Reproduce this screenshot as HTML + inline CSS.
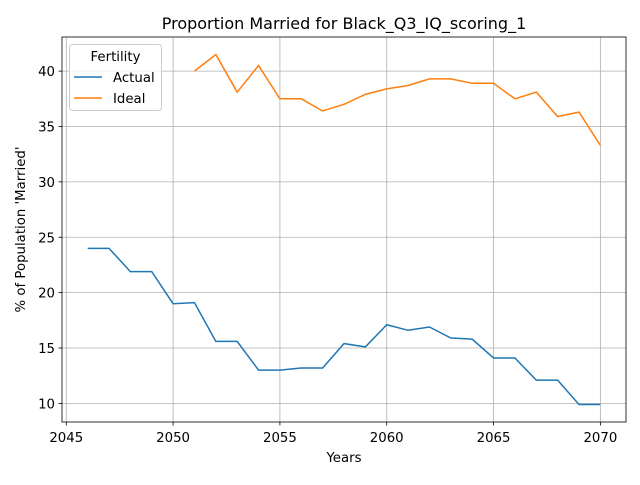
<!DOCTYPE html>
<html><head><meta charset="utf-8"><style>
body{margin:0;background:#fff;font-family:"Liberation Sans","DejaVu Sans",sans-serif;}
svg text{font-family:"DejaVu Sans","Liberation Sans",sans-serif;}
</style></head><body>
<svg id="chart" width="640" height="480" xmlns="http://www.w3.org/2000/svg"></svg>
<script>
const actualYears=[2046,2047,2048,2049,2050,2051,2052,2053,2054,2055,2056,2057,2058,2059,2060,2061,2062,2063,2064,2065,2066,2067,2068,2069,2070];
const actualValues=[24.0,24.0,21.9,21.9,19.0,19.1,15.6,15.6,13.0,13.0,13.2,13.2,15.4,15.1,17.1,16.6,16.9,15.9,15.8,14.1,14.1,12.1,12.1,9.9,9.9];
const idealYears=[2051,2052,2053,2054,2055,2056,2057,2058,2059,2060,2061,2062,2063,2064,2065,2066,2067,2068,2069,2070];
const idealValues=[40.0,41.5,38.1,40.5,37.5,37.5,36.4,37.0,37.9,38.4,38.7,39.3,39.3,38.9,38.9,37.5,38.1,35.9,36.3,33.3];
const xTicks=[2045,2050,2055,2060,2065,2070];
const yTicks=[10,15,20,25,30,35,40];

const L=62,R=626,T=37,B=422;
const xmin=2044.8,xmax=2071.2,ymin=8.32,ymax=43.08;
const sx=v=>L+(v-xmin)/(xmax-xmin)*(R-L);
const sy=v=>B-(v-ymin)/(ymax-ymin)*(B-T);
const svg=document.getElementById('chart');
const NS='http://www.w3.org/2000/svg';
function mk(tag,attrs,parent){const e=document.createElementNS(NS,tag);for(const k in attrs)e.setAttribute(k,attrs[k]);(parent||svg).appendChild(e);return e;}

const grid=mk('g',{});


xTicks.forEach(t=>{
  mk('line',{x1:sx(t),x2:sx(t),y1:T,y2:B,stroke:'#b0b0b0','stroke-width':0.8},grid);
  mk('line',{x1:sx(t),x2:sx(t),y1:B,y2:B+3.5,stroke:'#000','stroke-width':0.8});
  const tx=mk('text',{x:sx(t),y:B+20,'font-size':13.3,'text-anchor':'middle'});
  
  
  tx.textContent=t;
});
yTicks.forEach(t=>{
  mk('line',{x1:L,x2:R,y1:sy(t),y2:sy(t),stroke:'#b0b0b0','stroke-width':0.8},grid);
  mk('line',{x1:L-3.5,x2:L,y1:sy(t),y2:sy(t),stroke:'#000','stroke-width':0.8});
  const tx=mk('text',{x:L-7,y:sy(t)+5,'font-size':13.3,'text-anchor':'end'});
  
  
  tx.textContent=t;
});
function line(xs,ys,color,name){
  const p=mk('polyline',{points:xs.map((x,i)=>sx(x)+','+sy(ys[i])).join(' '),fill:'none',stroke:color,'stroke-width':1.5});
  
  
}
line(actualYears,actualValues,'#1f77b4','actual-line');
line(idealYears,idealValues,'#ff7f0e','ideal-line');
const frame=mk('rect',{x:L,y:T,width:R-L,height:B-T,fill:'none',stroke:'#000','stroke-width':0.8});


</script>
<svg style="position:absolute;left:0;top:0" width="640" height="480">
<text x="344" y="29" font-size="16" text-anchor="middle">Proportion Married for Black_Q3_IQ_scoring_1</text>
<text x="344" y="462" font-size="13.3" text-anchor="middle">Years</text>
<text transform="translate(25,229.5) rotate(-90)" font-size="13.3" text-anchor="middle">% of Population 'Married'</text>
<g>
<rect x="69.5" y="44.5" width="92" height="66" rx="3" fill="#fff" fill-opacity="0.8" stroke="#ccc"/>
<text x="115.5" y="61" font-size="13.3" text-anchor="middle">Fertility</text>
<line x1="74" x2="102" y1="77" y2="77" stroke="#1f77b4" stroke-width="1.5"/>
<text x="113" y="82" font-size="13.3">Actual</text>
<line x1="74" x2="102" y1="98" y2="98" stroke="#ff7f0e" stroke-width="1.5"/>
<text x="113" y="103" font-size="13.3">Ideal</text>
</g>
</svg>
</body></html>
